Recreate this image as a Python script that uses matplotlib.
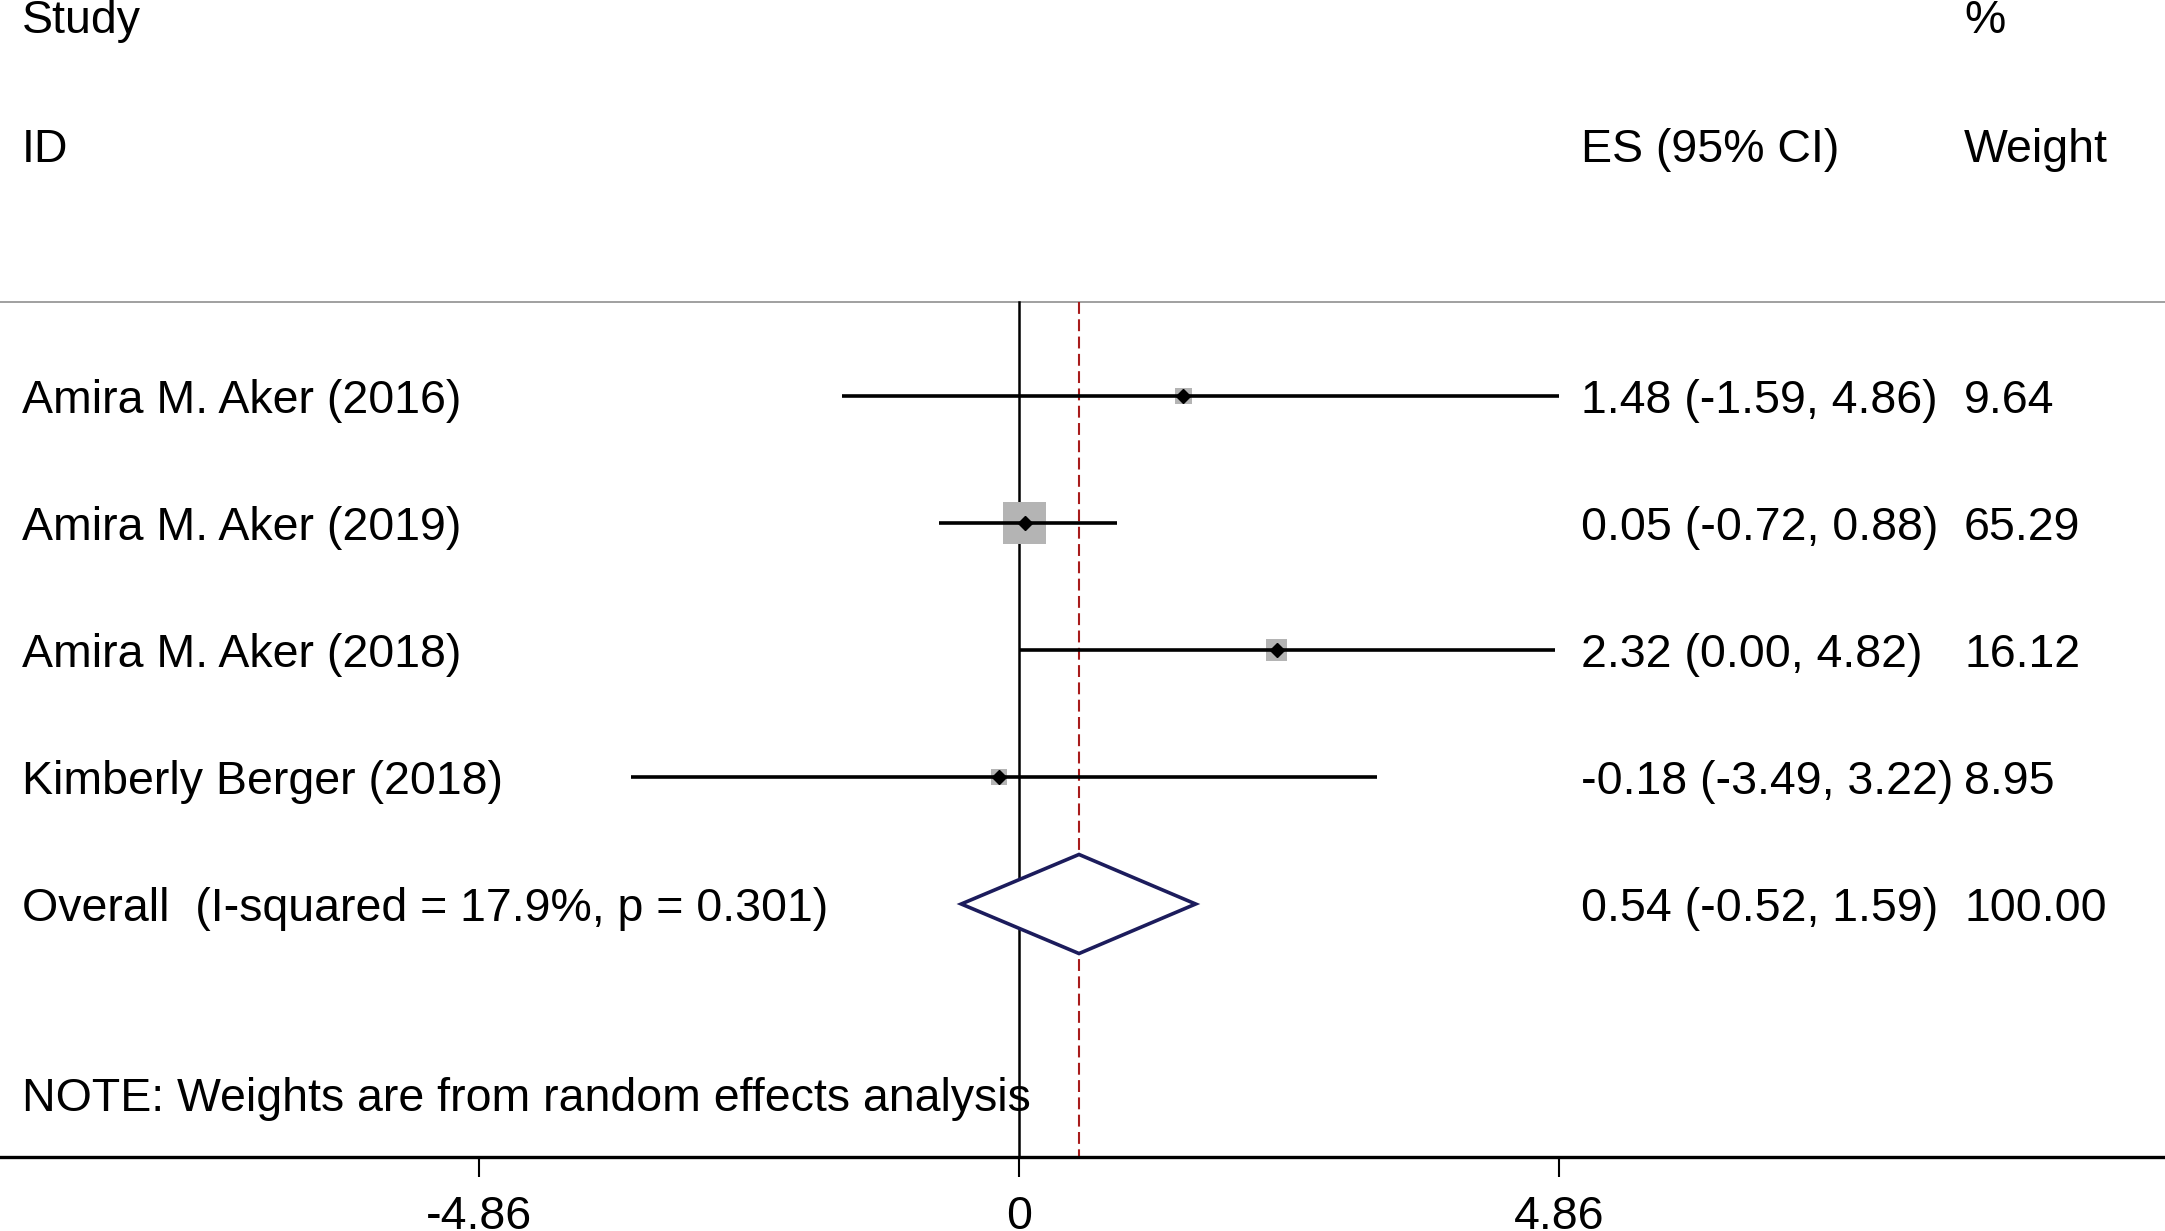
import matplotlib.pyplot as plt
import numpy as np

plt.rcParams['font.family'] = ['Liberation Sans', 'DejaVu Sans']

studies = ['Amira M. Aker (2016)', 'Amira M. Aker (2019)',
           'Amira M. Aker (2018)', 'Kimberly Berger (2018)']
es = [1.48, 0.05, 2.32, -0.18]
lo = [-1.59, -0.72, 0.00, -3.49]
hi = [4.86, 0.88, 4.82, 3.22]
weights = [9.64, 65.29, 16.12, 8.95]
es_labels = ['1.48 (-1.59, 4.86)', '0.05 (-0.72, 0.88)',
             '2.32 (0.00, 4.82)', '-0.18 (-3.49, 3.22)']
weight_labels = ['9.64', '65.29', '16.12', '8.95']

overall_label = 'Overall  (I-squared = 17.9%, p = 0.301)'
overall_es = 0.54
overall_lo = -0.52
overall_hi = 1.59
overall_es_label = '0.54 (-0.52, 1.59)'
overall_weight_label = '100.00'

xticks = [-4.86, 0, 4.86]
xticklabels = ['-4.86', '0', '4.86']

fs = 33.5
W, H = 2165, 1231
px_per_unit = 111.1
x0_px = 1019

fig = plt.figure(figsize=(W / 100, H / 100), dpi=100)
ax = fig.add_axes([0, (H - 1157) / H, 1, 1157 / H])
ax.set_xlim(-x0_px / px_per_unit, (W - x0_px) / px_per_unit)
ax.set_ylim((1157 - 269) / 127, -269 / 127)

# column x positions in data units
def px2x(p):
    return (p - x0_px) / px_per_unit

x_lab = px2x(22)
x_es = px2x(1581)
x_w = px2x(1964)

rows = np.arange(1, len(studies) + 1)
top_y = 0.26
bottom_y = ax.get_ylim()[0]

# header
ax.text(x_lab, -1.858, 'Study', fontsize=fs, va='baseline')
ax.text(x_lab, -0.843, 'ID', fontsize=fs, va='baseline')
ax.text(x_es, -0.843, 'ES (95% CI)', fontsize=fs, va='baseline')
ax.text(x_w, -1.858, '%', fontsize=fs, va='baseline')
ax.text(x_w, -0.843, 'Weight', fontsize=fs, va='baseline')

ax.axhline(top_y, color='#a0a0a0', lw=1.4)

# reference lines
ax.plot([0, 0], [top_y, bottom_y], color='black', lw=1.8, zorder=2)
ax.plot([overall_es, overall_es], [top_y, bottom_y], color='#a81c1c',
        lw=1.5, ls=(0, (5.7, 2.6)), zorder=2)

# studies
side_px = 43 * np.sqrt(np.array(weights) / max(weights))
ax.scatter(es, rows, marker='s', s=(side_px / 1.389) ** 2, color='#b4b4b4',
           zorder=3, linewidths=0)
ax.hlines(rows, lo, hi, color='black', lw=2.6, zorder=4)
ax.plot(es, rows, 'D', color='black', ms=7, zorder=5)

off = 0.13
for r, name, el, wl in zip(rows, studies, es_labels, weight_labels):
    ax.text(x_lab, r + off, name, fontsize=fs, va='baseline')
    ax.text(x_es, r + off, el, fontsize=fs, va='baseline')
    ax.text(x_w, r + off, wl, fontsize=fs, va='baseline')

# overall diamond
r_o = len(studies) + 1
dh = 0.39
ax.fill([overall_lo, overall_es, overall_hi, overall_es, overall_lo],
        [r_o, r_o - dh, r_o, r_o + dh, r_o], facecolor='white',
        edgecolor='#1c1c5c', lw=2.6, zorder=4)
ax.text(x_lab, r_o + off, overall_label, fontsize=fs, va='baseline')
ax.text(x_es, r_o + off, overall_es_label, fontsize=fs, va='baseline')
ax.text(x_w, r_o + off, overall_weight_label, fontsize=fs, va='baseline')

ax.text(x_lab, 6.63, 'NOTE: Weights are from random effects analysis',
        fontsize=fs, va='baseline', zorder=6)

# axes styling
for s in ['top', 'left', 'right']:
    ax.spines[s].set_visible(False)
ax.spines['bottom'].set_linewidth(2.4)
ax.set_yticks([])
ax.set_xticks(xticks)
ax.set_xticklabels(xticklabels, fontsize=fs)
ax.tick_params(axis='x', length=14.5, width=1.5, pad=13)

fig.savefig('out.png', dpi=100)
